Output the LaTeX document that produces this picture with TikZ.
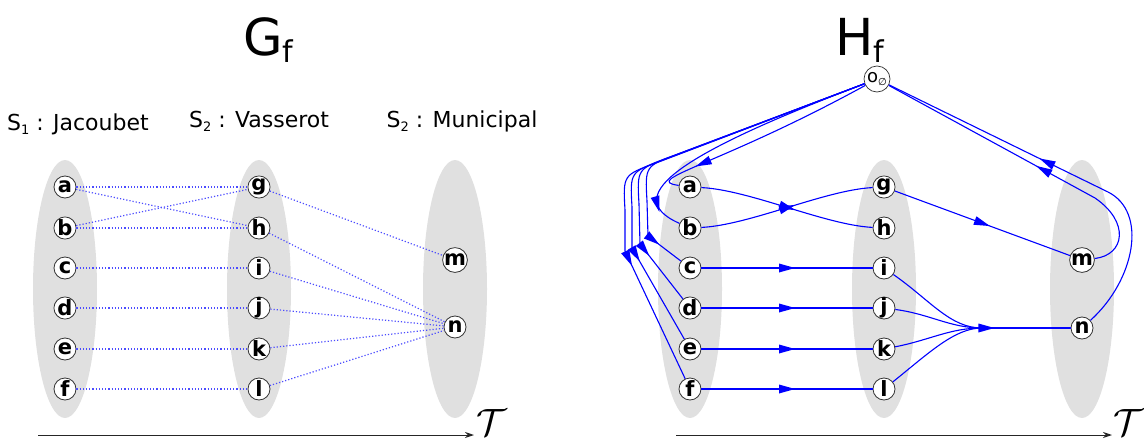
\documentclass[tikz,border=0pt]{standalone}
\usepackage{fontspec}
\setmainfont{DejaVu Sans}
\usetikzlibrary{arrows.meta}

\newcommand{\lowidx}[2]{\raisebox{#1}{\fontsize{13}{13}\selectfont #2}}
\newcommand{\bigidx}[1]{\raisebox{-7pt}{\fontsize{30}{30}\selectfont #1}}

\begin{document}
\begin{tikzpicture}[x=1pt, y=-1pt,
    vtx/.style={circle, draw=black!80, fill=white, line width=0.8pt, minimum size=22pt, inner sep=0pt, font=\fontsize{21}{21}\selectfont\bfseries},
    lbl/.style={anchor=base, inner sep=0pt, font=\fontsize{22}{22}\selectfont},
    ttl/.style={anchor=base west, inner sep=0pt, font=\fontsize{51}{51}\selectfont},
    dotlink/.style={draw=blue!70, line width=1.2pt, dotted},
    flowline/.style={draw=blue, line width=1.1pt},
    timeline/.style={draw=black!85, line width=1pt, -{Stealth[length=9pt,width=6pt]}},
    mid/.style={pos=#1, sloped, allow upside down},
    midhead/.pic={\fill[blue] (8pt,0) -- (-8pt,4.5pt) -- (-8pt,-4.5pt) -- cycle;}]
  \useasboundingbox (0,0) rectangle (1144,442);

  % groups
  \fill[black!12] (65,289) ellipse [x radius=32pt, y radius=129pt];
  \fill[black!12] (259,289) ellipse [x radius=32pt, y radius=129pt];
  \fill[black!12] (455,289) ellipse [x radius=32pt, y radius=129pt];
  \fill[black!12] (690,289) ellipse [x radius=32pt, y radius=129pt];
  \fill[black!12] (884,289) ellipse [x radius=32pt, y radius=129pt];
  \fill[black!12] (1082,289) ellipse [x radius=32pt, y radius=129pt];

  % titles and stop names
  \node[ttl] (gf) at (243,55) {G\bigidx{f}};
  \node[ttl] (hf) at (835,55) {H\bigidx{f}};
  \node[lbl] (s1) at (78,130) {S\lowidx{-4pt}{1} : Jacoubet};
  \node[lbl] (s2) at (259,127) {S\lowidx{-4pt}{2} : Vasserot};
  \node[lbl] (s3) at (462,127) {S\lowidx{-4pt}{2} : Municipal};

  % G_f
  \node[vtx] (a) at (65,187) {a};
  \node[vtx] (b) at (65,228) {b};
  \node[vtx] (c) at (65,268) {c};
  \node[vtx] (d) at (65,308) {d};
  \node[vtx] (e) at (65,349) {e};
  \node[vtx] (f) at (65,389) {f};
  \node[vtx] (g) at (259,187) {g};
  \node[vtx] (h) at (259,228) {h};
  \node[vtx] (i) at (259,268) {i};
  \node[vtx] (j) at (259,308) {j};
  \node[vtx] (k) at (259,349) {k};
  \node[vtx] (l) at (259,389) {l};
  \node[vtx] (m) at (455,260) {m};
  \node[vtx] (n) at (455,327) {n};
  \draw[dotlink] (a) -- (g); \draw[dotlink] (a) -- (h);
  \draw[dotlink] (b) -- (g); \draw[dotlink] (b) -- (h);
  \draw[dotlink] (c) -- (i); \draw[dotlink] (d) -- (j);
  \draw[dotlink] (e) -- (k); \draw[dotlink] (f) -- (l);
  \draw[dotlink] (g) -- (m); \draw[dotlink] (h) -- (n);
  \draw[dotlink] (i) -- (n); \draw[dotlink] (j) -- (n);
  \draw[dotlink] (k) -- (n); \draw[dotlink] (l) -- (n);

  % H_f
  \node[vtx, minimum size=26pt, line width=0.7pt, font=\fontsize{18}{18}\selectfont] (o0) at (877,79) {o\lowidx{-3pt}{\fontsize{10}{10}\selectfont ∅}};
  \node[vtx] (a2) at (690,187) {a};
  \node[vtx] (b2) at (690,228) {b};
  \node[vtx] (c2) at (690,268) {c};
  \node[vtx] (d2) at (690,308) {d};
  \node[vtx] (e2) at (690,349) {e};
  \node[vtx] (f2) at (690,389) {f};
  \node[vtx] (g2) at (884,187) {g};
  \node[vtx] (h2) at (884,228) {h};
  \node[vtx] (i2) at (884,268) {i};
  \node[vtx] (j2) at (884,308) {j};
  \node[vtx] (k2) at (884,349) {k};
  \node[vtx] (l2) at (884,389) {l};
  \node[vtx] (m2) at (1082,260) {m};
  \node[vtx] (n2) at (1082,328) {n};
  \coordinate (mg) at (982,328);

  \draw[flowline] (a2) .. controls (750,190) and (825,225) .. (h2) pic[mid=0.5]{midhead};
  \draw[flowline] (b2) .. controls (750,225) and (825,190) .. (g2) pic[mid=0.5]{midhead};
  \draw[flowline] (c2) -- (i2) pic[mid=0.5]{midhead};
  \draw[flowline] (d2) -- (j2) pic[mid=0.5]{midhead};
  \draw[flowline] (e2) -- (k2) pic[mid=0.5]{midhead};
  \draw[flowline] (f2) -- (l2) pic[mid=0.5]{midhead};
  \draw[flowline] (g2) -- (m2) pic[mid=0.5]{midhead};
  \draw[flowline] (i2) .. controls (930,300) and (950,328) .. (mg) -- (n2) pic[mid=0.05]{midhead};
  \draw[flowline] (j2) .. controls (930,314) and (950,328) .. (mg) -- (n2);
  \draw[flowline] (k2) .. controls (930,340) and (950,328) .. (mg) -- (n2);
  \draw[flowline] (l2) .. controls (930,352) and (955,328) .. (mg) -- (n2);

  % back to the source
  \draw[flowline] (m2) .. controls (1125,255) and (1130,222) .. (1095,198) -- (o0) pic[mid=0.25]{midhead};
  \draw[flowline] (n2) .. controls (1135,280) and (1148,212) .. (1108,192) -- (o0) pic[mid=0.28]{midhead};

  % out of the source
  \draw[flowline] (o0) .. controls (720,165) and (640,180) .. (a2) pic[mid=0.5]{midhead};
  \draw[flowline] (o0) .. controls (690,150) and (615,195) .. (b2) pic[mid=0.8]{midhead};
  \draw[flowline] (o0) -- (678,154) .. controls (645,166) .. (647,201) -- (648,236) -- (c2) pic[mid=0.15]{midhead};
  \draw[flowline] (o0) -- (670,157) .. controls (637,169) .. (639,204) -- (640,244) -- (d2) pic[mid=0.1]{midhead};
  \draw[flowline] (o0) -- (663,160) .. controls (630,172) .. (632,207) -- (632,248) -- (e2) pic[mid=0.07]{midhead};
  \draw[flowline] (o0) -- (656,163) .. controls (623,175) .. (625,210) -- (625,251) -- (f2) pic[mid=0.06]{midhead};

  % time axes
  \coordinate (t0) at (38,435); \coordinate (t1) at (474,435);
  \coordinate (u0) at (676,435); \coordinate (u1) at (1112,435);
  \draw[timeline] (t0) -- (t1);
  \draw[timeline] (u0) -- (u1);
  \node (tl) at (492,423) {\scalebox{3.8}{$\mathcal{T}$}};
  \node (tr) at (1129,423) {\scalebox{3.8}{$\mathcal{T}$}};
\end{tikzpicture}
\end{document}
